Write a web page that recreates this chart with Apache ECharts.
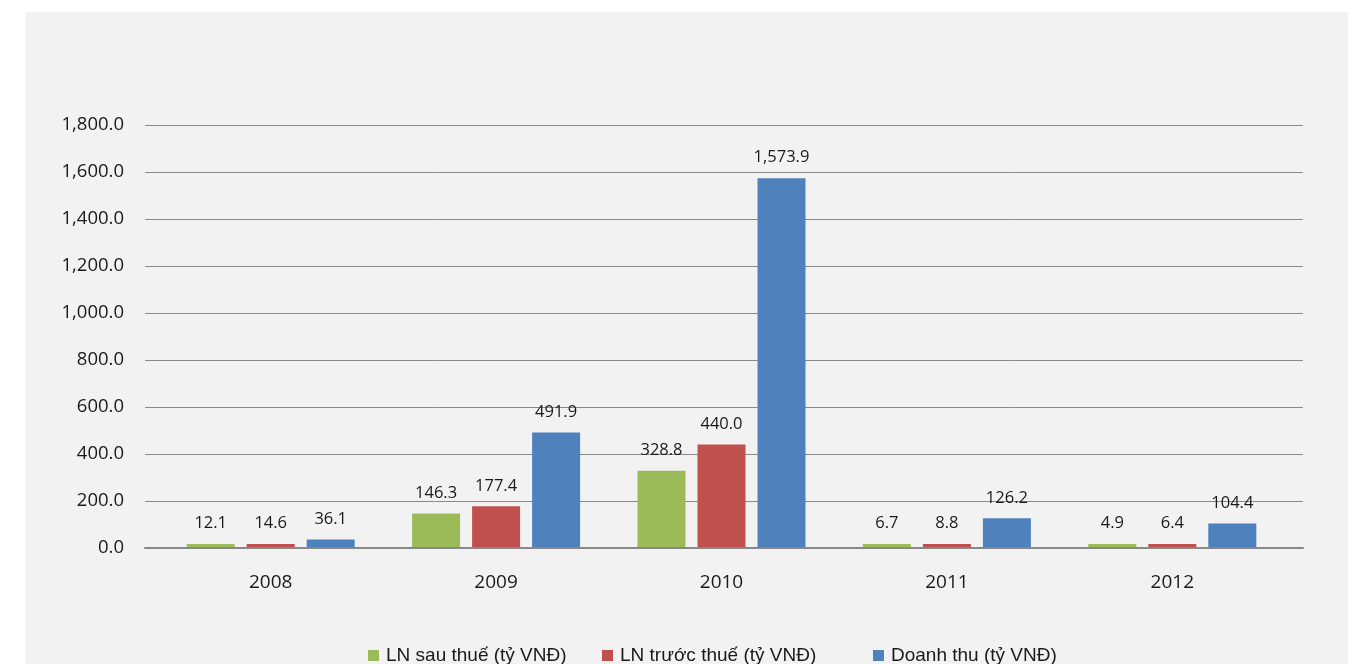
<!DOCTYPE html>
<html>
<head>
<meta charset="utf-8">
<script src="https://cdn.jsdelivr.net/npm/echarts@6/dist/echarts.min.js"></script>
<style>
html,body{margin:0;padding:0;background:#ffffff;}
#chart{position:absolute;left:25px;top:12px;width:1323px;height:652px;background:#f2f2f2;}
</style>
</head>
<body>
<div id="chart"></div>
<script>
const years = ['2008', '2009', '2010', '2011', '2012'];
const lnSauThue = [12.1, 146.3, 328.8, 6.7, 4.9];
const lnTruocThue = [14.6, 177.4, 440.0, 8.8, 6.4];
const doanhThu = [36.1, 491.9, 1573.9, 126.2, 104.4];
const seriesNames = ['LN sau thuế (tỷ VNĐ)', 'LN trước thuế (tỷ VNĐ)', 'Doanh thu (tỷ VNĐ)'];
const colors = ['#9bbb59', '#c0504d', '#4f81bd'];

const fmt = v => Number(v).toLocaleString('en-US', {minimumFractionDigits: 1, maximumFractionDigits: 1});
const font = '"Open Sans", "Noto Sans", sans-serif';

const chart = echarts.init(document.getElementById('chart'), null, {renderer: 'canvas'});
const mkSeries = (name, data, color) => ({
  name, type: 'bar', data, xAxisIndex: 0, yAxisIndex: 0, z: 3,
  barWidth: 48, barGap: '25%', barMinHeight: 4,
  itemStyle: {color},
  label: {show: true, position: 'top', distance: 12, color: '#1a1a1a', fontSize: 16.5, fontFamily: font, formatter: p => fmt(p.value)}
});
const legendCommon = {
  bottom: -6, itemWidth: 11, itemHeight: 11, icon: 'rect',
  textStyle: {fontSize: 19, color: '#1a1a1a', fontFamily: '"Liberation Sans", Arial, sans-serif', padding: [0, 0, 0, 2]}
};
chart.setOption({
  backgroundColor: '#f2f2f2',
  animation: false,
  grid: [
    {left: 133, right: 63, top: 113, bottom: 116},
    {left: 120, right: 45, top: 113, bottom: 116}
  ],
  legend: [
    Object.assign({}, legendCommon, {left: 338, data: [seriesNames[0]]}),
    Object.assign({}, legendCommon, {left: 572, data: [seriesNames[1]]}),
    Object.assign({}, legendCommon, {left: 843, data: [seriesNames[2]]})
  ],
  xAxis: [
    {
      gridIndex: 0, type: 'category', data: years,
      axisLine: {show: false},
      axisTick: {show: false},
      axisLabel: {fontSize: 19, color: '#1a1a1a', margin: 25, fontFamily: font}
    },
    {
      gridIndex: 1, type: 'category', data: [''],
      axisLine: {show: true, lineStyle: {color: '#888', width: 2}},
      axisTick: {show: false}, axisLabel: {show: false}, z: 4
    }
  ],
  yAxis: [
    {
      gridIndex: 0, type: 'value', min: 0, max: 1800, interval: 200,
      show: false, splitLine: {show: false}
    },
    {
      gridIndex: 1, type: 'value', min: 0, max: 1800, interval: 200,
      axisLine: {show: false}, axisTick: {show: false},
      splitLine: {lineStyle: {color: '#888', width: 1}},
      axisLabel: {fontSize: 18.5, color: '#1a1a1a', margin: 21, fontFamily: font, formatter: v => fmt(v)}
    }
  ],
  series: [
    mkSeries(seriesNames[0], lnSauThue, colors[0]),
    mkSeries(seriesNames[1], lnTruocThue, colors[1]),
    mkSeries(seriesNames[2], doanhThu, colors[2])
  ]
});
</script>
</body>
</html>
